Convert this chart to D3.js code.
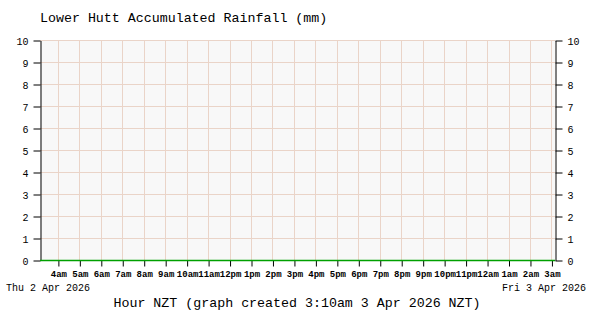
<!DOCTYPE html>
<html>
<head>
<meta charset="utf-8">
<script src="https://cdn.jsdelivr.net/npm/d3@7"></script>
<style>
body { margin: 0; background: #fff; }
text { font-family: "Liberation Mono", "DejaVu Sans Mono", monospace; fill: #000; }
</style>
</head>
<body>
<svg width="600" height="320"></svg>
<script>
var title = "Lower Hutt Accumulated Rainfall (mm)",
    xTitle = "Hour NZT (graph created 3:10am 3 Apr 2026 NZT)",
    startLabel = "Thu 2 Apr 2026",
    endLabel = "Fri 3 Apr 2026";

// graph window: 3:10am Thu to 3:10am Fri
var start = new Date(2026, 3, 2, 3, 10),
    end = new Date(2026, 3, 3, 3, 10);

var yTicks = [0, 1, 2, 3, 4, 5, 6, 7, 8, 9, 10];

// accumulated rainfall readings (mm), none recorded
var rainTimes = [
  "03:10", "04:00", "05:00", "06:00", "07:00", "08:00", "09:00", "10:00",
  "11:00", "12:00", "13:00", "14:00", "15:00", "16:00", "17:00", "18:00",
  "19:00", "20:00", "21:00", "22:00", "23:00", "00:00", "01:00", "02:00",
  "03:00", "03:10"
];
var rainValues = [
  0, 0, 0, 0, 0, 0, 0, 0, 0, 0, 0, 0, 0,
  0, 0, 0, 0, 0, 0, 0, 0, 0, 0, 0, 0, 0
];

var svg = d3.select("svg"),
    plotL = 40, plotR = 555, plotT = 40, plotB = 260;

var x = d3.scaleTime().domain([start, end]).range([plotL, plotR]),
    y = d3.scaleLinear().domain([0, 10]).range([plotB, plotT]);

var hours = d3.timeHour.range(d3.timeHour.ceil(start), end);

var points = rainTimes.map(function(t, i) {
  var p = t.split(":"), day = i >= 21 ? 3 : 2;
  return {date: new Date(2026, 3, day, +p[0], +p[1]), value: rainValues[i]};
});

svg.append("rect")
    .attr("x", plotL).attr("y", plotT)
    .attr("width", plotR - plotL).attr("height", plotB - plotT)
    .attr("fill", "#f8f8f8");

svg.append("g").selectAll("line").data(hours).join("line")
    .attr("x1", function(d) { return Math.round(x(d)) + 0.5; })
    .attr("x2", function(d) { return Math.round(x(d)) + 0.5; })
    .attr("y1", plotT).attr("y2", plotB)
    .attr("stroke", "#ead4c8");

svg.append("g").selectAll("line").data(yTicks.slice(1)).join("line")
    .attr("x1", plotL).attr("x2", plotR)
    .attr("y1", function(d) { return y(d) + 0.5; })
    .attr("y2", function(d) { return y(d) + 0.5; })
    .attr("stroke", "#ead4c8");

var yLeft = svg.append("g")
    .attr("transform", "translate(" + (plotL + 0.5) + ",0.5)")
    .call(d3.axisLeft(y).tickValues(yTicks).tickSize(7).tickPadding(5).tickSizeOuter(0));
var yRight = svg.append("g")
    .attr("transform", "translate(" + (plotR + 0.5) + ",0.5)")
    .call(d3.axisRight(y).tickValues(yTicks).tickSize(7).tickPadding(5).tickSizeOuter(0));
[yLeft, yRight].forEach(function(g) {
  g.select(".domain").attr("stroke", "#000");
  g.selectAll("line").attr("stroke", "#000");
  g.selectAll("text").style("font-size", "10px").attr("dy", "0.35em");
});

var xAxis = svg.append("g")
    .attr("transform", "translate(0.5," + (plotB + 0.5) + ")")
    .call(d3.axisBottom(x).tickValues(hours).tickSize(6).tickPadding(4)
      .tickFormat(function(d) { return d3.timeFormat("%-I%p")(d).toLowerCase(); }));
xAxis.select(".domain").remove();
xAxis.selectAll("line").attr("stroke", "#000");
xAxis.selectAll("text").style("font-size", "9px").style("font-weight", "bold");

var line = d3.line()
    .x(function(d) { return x(d.date); })
    .y(function(d) { return y(d.value) + 0.5; });

svg.append("path")
    .datum(points)
    .attr("fill", "none")
    .attr("stroke", "#00a000")
    .attr("stroke-width", 1.5)
    .attr("d", line);

svg.append("text").attr("x", 40).attr("y", 22)
    .style("font-size", "13.3px").text(title);
svg.append("text").attr("x", 6).attr("y", 291)
    .style("font-size", "10px").text(startLabel);
svg.append("text").attr("x", 586).attr("y", 291).attr("text-anchor", "end")
    .style("font-size", "10px").text(endLabel);
svg.append("text").attr("x", 297).attr("y", 307).attr("text-anchor", "middle")
    .style("font-size", "13.3px").text(xTitle);
</script>
</body>
</html>
